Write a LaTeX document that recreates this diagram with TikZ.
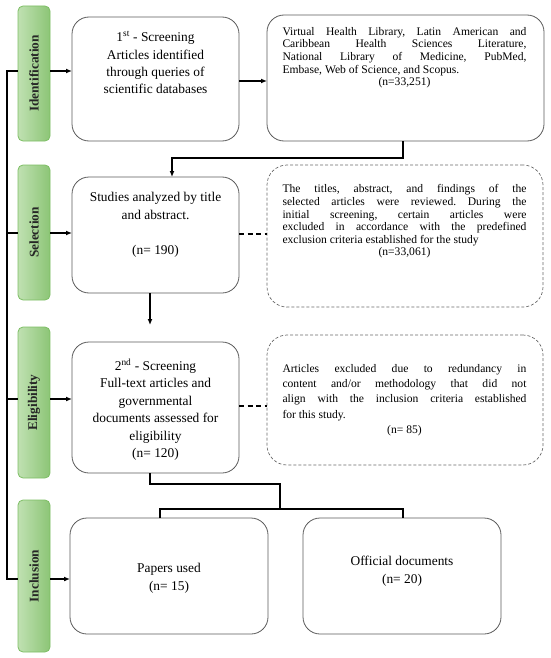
\documentclass[tikz,border=0pt]{standalone}
\usepackage{fontspec}
\setmainfont{Liberation Serif}
\usetikzlibrary{arrows.meta,calc}
\definecolor{tabL}{RGB}{192,225,178}
\definecolor{tabR}{RGB}{140,197,118}
\definecolor{tabB}{RGB}{125,190,100}
\definecolor{boxB}{RGB}{90,90,90}
\definecolor{dboxB}{RGB}{105,105,105}
\begin{document}
\frenchspacing
\begin{tikzpicture}[x=1pt,y=-1pt,
 tab/.style={draw=tabB, line width=0.8pt, rounded corners=5pt, left color=tabL, right color=tabR, minimum width=32pt, inner sep=0pt},
 tabtxt/.style={rotate=90, inner sep=0pt, font=\fontsize{13.3}{15}\selectfont\bfseries, text=black!85},
 box/.style={draw=boxB, line width=0.8pt, rounded corners=17pt, inner sep=0pt, outer sep=0pt},
 dbox/.style={draw=dboxB, line width=0.7pt, dash pattern=on 3pt off 2pt, rounded corners=20pt, inner sep=0pt, outer sep=0pt},
 txt/.style={inner sep=0pt, anchor=north, align=center, font=\fontsize{13.4}{17.4}\selectfont},
 jtxt/.style={inner sep=0pt, anchor=north, align=justify, text width=244pt},
 conn/.style={line width=1.2pt},
 arr/.style={conn, -{Latex[length=6pt,width=5pt]}},
 dconn/.style={line width=1.4pt, dash pattern=on 5pt off 3.5pt}]
\useasboundingbox (0,0) rectangle (550,658);
% tabs
\node[tab, minimum height=135pt] (tI) at (34,73.5) {};
\node[tab, minimum height=135pt] (tS) at (34,232.5) {};
\node[tab, minimum height=151pt] (tE) at (34,402.5) {};
\node[tab, minimum height=152pt] (tN) at (34,576) {};
\node[tabtxt] (lI) at (tI.center) {Identification};
\node[tabtxt] (lS) at (tS.center) {Selection};
\node[tabtxt] (lE) at (tE.center) {Eligibility};
\node[tabtxt] (lN) at (tN.center) {Inclusion};
% boxes
\node[box, minimum width=167pt, minimum height=124pt] (b1) at (155.5,79) {};
\node[box, minimum width=277pt, minimum height=126pt] (b2) at (405.5,78) {};
\node[box, minimum width=167pt, minimum height=116pt] (b3) at (155.5,235) {};
\node[dbox, minimum width=276pt, minimum height=142pt] (d1) at (405,236) {};
\node[box, minimum width=167pt, minimum height=131pt] (b4) at (155.5,407.5) {};
\node[dbox, minimum width=276pt, minimum height=130pt] (d2) at (405,400) {};
\node[box, minimum width=198pt, minimum height=116pt] (b5) at (169,576) {};
\node[box, minimum width=198pt, minimum height=116pt] (b6) at (402,576) {};
% texts
\node[txt] (x1) at (155.5,31) {1\textsuperscript{st} - Screening\\Articles identified\\through queries of\\scientific databases};
\node[jtxt, font=\fontsize{11.6}{12.6}\selectfont] (x2) at (404.5,27) {Virtual Health Library, Latin American and\linebreak Caribbean Health Sciences Literature,\linebreak National Library of Medicine, PubMed,\linebreak Embase, Web of Science, and Scopus.\par{\centering (n=33,251)\par}};
\node[txt] (x3) at (155.5,192.5) {Studies analyzed by title\\and abstract.\\[17.4pt](n= 190)};
\node[jtxt, font=\fontsize{11.6}{12.6}\selectfont] (x4) at (404.5,184.5) {The titles, abstract, and findings of the\linebreak selected articles were reviewed. During the\linebreak initial screening, certain articles were\linebreak excluded in accordance with the predefined\linebreak exclusion criteria established for the study\par{\centering (n=33,061)\par}};
\node[txt] (x5) at (155.5,358.5) {2\textsuperscript{nd} - Screening\\Full-text articles and\\governmental\\documents assessed for\\eligibility\\(n= 120)};
\node[jtxt, font=\fontsize{11.6}{15.3}\selectfont] (x6) at (404.5,364) {Articles excluded due to redundancy in\linebreak content and/or methodology that did not\linebreak align with the inclusion criteria established\linebreak for this study.\par{\centering (n= 85)\par}};
\node[txt, font=\fontsize{13.4}{18}\selectfont] (x7) at (169,563) {Papers used\\(n= 15)};
\node[txt, font=\fontsize{13.4}{18}\selectfont] (x8) at (402,556) {Official documents\\(n= 20)};
% coordinates
\coordinate (sp) at (7,0);
\coordinate (yI) at (0,71);
\coordinate (yS) at (0,233);
\coordinate (yE) at (0,399);
\coordinate (yN) at (0,579);
\coordinate (y12) at (0,81);
\coordinate (k1) at (172,158);
\coordinate (xa) at (150,0);
\coordinate (xb) at (403,0);
\coordinate (m1) at (280,484);
\coordinate (m2) at (280,509);
\coordinate (p5) at (160,518);
\coordinate (p6) at (403,518);
\coordinate (yd1) at (0,234);
\coordinate (yd2) at (0,406);
% spine
\draw[conn] (tI.west |- yI) -- (sp |- yI) -- (sp |- yN) -- (tN.west |- yN);
\draw[conn] (tS.west |- yS) -- (sp |- yS);
\draw[conn] (tE.west |- yE) -- (sp |- yE);
% tab arrows
\draw[arr] (tI.east |- yI) -- (b1.west |- yI);
\draw[arr] (tS.east |- yS) -- (b3.west |- yS);
\draw[arr] (tE.east |- yE) -- (b4.west |- yE);
\draw[arr] (tN.east |- yN) -- (b5.west |- yN);
% flow
\draw[arr] (b1.east |- y12) -- (b2.west |- y12);
\draw[arr] (b2.south -| xb) |- (k1) -- (k1 |- b3.north);
\draw[arr, shorten >=17pt] (b3.south -| xa) -- (b4.north -| xa);
\draw[dconn] (b3.east |- yd1) -- (d1.west |- yd1);
\draw[dconn] (b4.east |- yd2) -- (d2.west |- yd2);
\draw[conn] (b4.south -| xa) |- (m1) -- (m2);
\draw[conn] (p5) |- (m2) -| (p6);
\end{tikzpicture}
\end{document}
